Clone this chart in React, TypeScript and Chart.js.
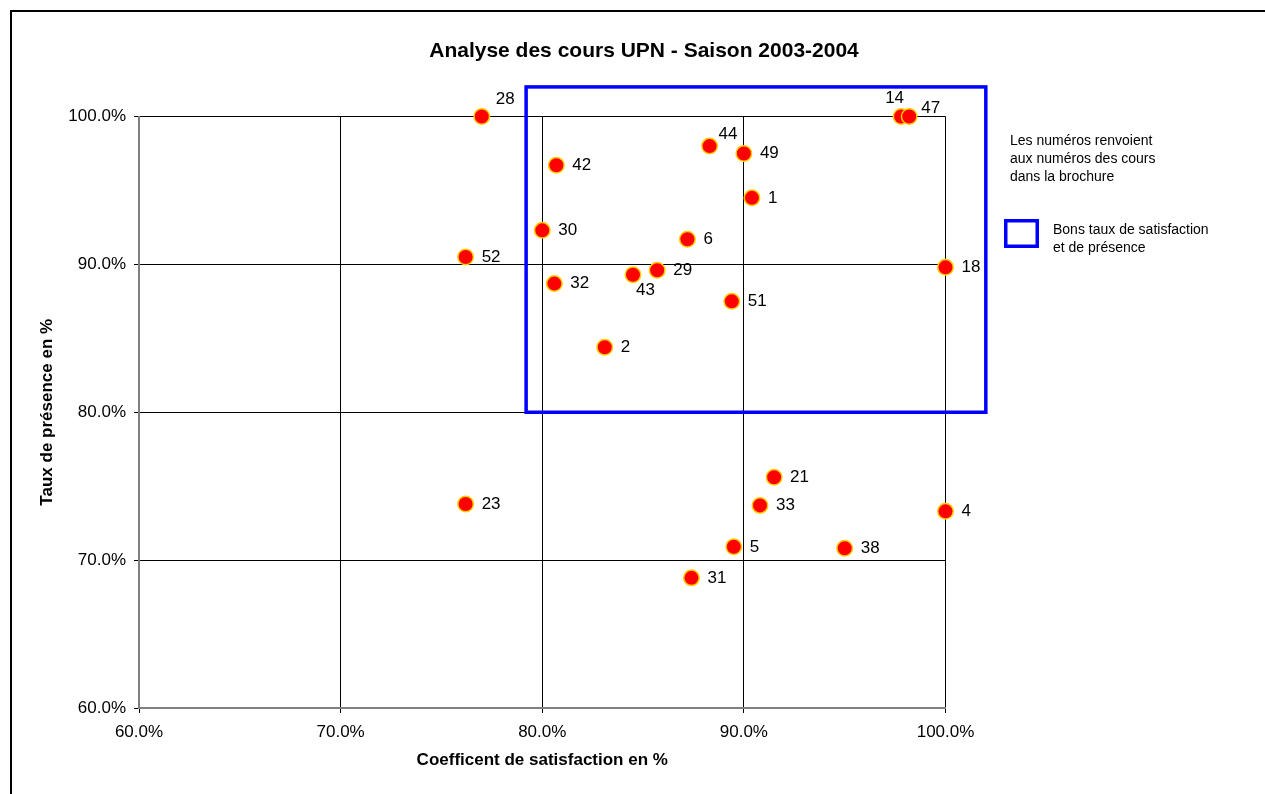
import React, { useEffect, useRef } from "react";
import { Chart, registerables } from "chart.js";

Chart.register(...registerables);

// ---- Data ----
const courseLabels = ["28", "14", "47", "44", "49", "42", "1", "30", "6", "52", "18", "32", "43", "29", "51", "2", "21", "33", "23", "4", "5", "38", "31"];
const satisfaction = [77.0, 97.8, 98.2, 88.3, 90.0, 80.7, 90.4, 80.0, 87.2, 76.2, 100.0, 80.6, 84.5, 85.7, 89.4, 83.1, 91.5, 90.8, 76.2, 100.0, 89.5, 95.0, 87.4];
const presence = [100.0, 100.0, 100.0, 98.0, 97.5, 96.7, 94.5, 92.3, 91.7, 90.5, 89.8, 88.7, 89.3, 89.6, 87.5, 84.4, 75.6, 73.7, 73.8, 73.3, 70.9, 70.8, 68.8];

const xTicks = [60, 70, 80, 90, 100];
const yTicks = [60, 70, 80, 90, 100];

// "good" zone (satisfaction / presence, in %)
const goodZoneX = [79.2, 102.0];
const goodZoneY = [80.0, 102.0];

const titleText = "Analyse des cours UPN - Saison 2003-2004";
const xTitle = "Coefficent de satisfaction en %";
const yTitle = "Taux de présence en %";
const noteLines = ["Les numéros renvoient", "aux numéros des cours", "dans la brochure"];
const legendLines = ["Bons taux de satisfaction", "et de présence"];

const FONT = "Arial, 'Liberation Sans', sans-serif";

// label placement style (pixel offsets relative to the point)
const labelPlacement: Record<string, [number, number]> = {
  "28": [14, -17],
  "14": [-16, -18],
  "47": [12, -8],
  "44": [9, -12],
  "43": [3, 16],
};
const defaultPlacement: [number, number] = [16, 0];

const overlayPlugin = {
  id: "overlay",
  beforeDraw(chart: any) {
    const ctx = chart.ctx;
    ctx.save();
    ctx.fillStyle = "#ffffff";
    ctx.fillRect(0, 0, chart.width, chart.height);
    ctx.restore();
  },
  afterDatasetsDraw(chart: any) {
    const ctx = chart.ctx;
    const meta = chart.getDatasetMeta(0);
    ctx.save();
    ctx.font = `17px ${FONT}`;
    ctx.fillStyle = "#000";
    ctx.textAlign = "left";
    ctx.textBaseline = "middle";
    meta.data.forEach((pt: any, i: number) => {
      const lab = courseLabels[i];
      const off = labelPlacement[lab] || defaultPlacement;
      ctx.fillText(lab, pt.x + off[0], pt.y + off[1]);
    });
    ctx.restore();
  },
  afterDraw(chart: any) {
    const ctx = chart.ctx;
    const xs = chart.scales.x;
    const ys = chart.scales.y;
    ctx.save();
    // good zone box
    const x0 = xs.getPixelForValue(goodZoneX[0]);
    const x1 = xs.getPixelForValue(goodZoneX[1]);
    const y0 = ys.getPixelForValue(goodZoneY[1]);
    const y1 = ys.getPixelForValue(goodZoneY[0]);
    ctx.strokeStyle = "#0000FF";
    ctx.lineWidth = 3.5;
    ctx.strokeRect(x0, y0, x1 - x0, y1 - y0);

    // legend square
    ctx.strokeRect(1005.75, 220.75, 31.5, 25.5);

    ctx.fillStyle = "#000";
    ctx.textAlign = "left";
    ctx.textBaseline = "middle";
    ctx.font = `14px ${FONT}`;
    noteLines.forEach((t, i) => ctx.fillText(t, 1010, 141 + i * 18));
    legendLines.forEach((t, i) => ctx.fillText(t, 1053, 230.5 + i * 17.6));

    // title
    ctx.font = `bold 21px ${FONT}`;
    ctx.textAlign = "center";
    ctx.fillText(titleText, 644, 51);

    // outer frame
    ctx.strokeStyle = "#000";
    ctx.lineWidth = 2;
    ctx.strokeRect(11, 11, 1400, 1000);
    ctx.restore();
  },
};

export default function App() {
  const ref = useRef<HTMLCanvasElement | null>(null);

  useEffect(() => {
    if (!ref.current) return;
    const chart = new Chart(ref.current, {
      type: "scatter",
      data: {
        datasets: [
          {
            label: "Cours",
            data: satisfaction.map((x, i) => ({ x, y: presence[i] })),
            backgroundColor: "#FF0000",
            borderColor: "#FFCC00",
            borderWidth: 1.5,
            pointRadius: 7.75,
            pointHoverRadius: 7.75,
            clip: false as any,
          },
        ],
      },
      options: {
        animation: false,
        responsive: false,
        devicePixelRatio: 1,
        layout: { padding: { left: 20, right: 319.5, top: 116.5, bottom: 23 } },
        plugins: {
          legend: { display: false },
          tooltip: { enabled: false },
          title: { display: false },
        },
        scales: {
          x: {
            type: "linear",
            min: 60,
            max: 100,
            afterBuildTicks: (s: any) => {
              s.ticks = xTicks.map((v) => ({ value: v }));
            },
            afterFit: (s: any) => {
              s.height = 63;
            },
            ticks: {
              color: "#000",
              padding: 9,
              font: { family: FONT, size: 17 },
              callback: (v: any) => Number(v).toFixed(1) + "%",
            },
            grid: { color: "#000", lineWidth: 1, tickLength: 5, tickColor: "#000" },
            border: { color: "#808080", width: 2 },
            title: {
              display: true,
              text: xTitle,
              color: "#000",
              font: { family: FONT, size: 17, weight: "bold", lineHeight: 1.2 },
              padding: { top: 0, bottom: 0 },
            },
          },
          y: {
            type: "linear",
            min: 60,
            max: 100,
            afterBuildTicks: (s: any) => {
              s.ticks = yTicks.map((v) => ({ value: v }));
            },
            afterFit: (s: any) => {
              s.width = 119;
            },
            ticks: {
              color: "#000",
              padding: 8,
              font: { family: FONT, size: 17 },
              callback: (v: any) => Number(v).toFixed(1) + "%",
            },
            grid: { color: "#000", lineWidth: 1, tickLength: 5, tickColor: "#000" },
            border: { color: "#808080", width: 2 },
            title: {
              display: true,
              text: yTitle,
              color: "#000",
              font: { family: FONT, size: 17, weight: "bold", lineHeight: 1.2 },
              padding: { top: 17, bottom: 0 },
            },
          },
        },
      },
      plugins: [overlayPlugin],
    });
    return () => chart.destroy();
  }, []);

  return (
    <div style={{ position: "absolute", left: 0, top: 0, width: 1265, height: 794 }}>
      <canvas ref={ref} width={1265} height={794} />
    </div>
  );
}
